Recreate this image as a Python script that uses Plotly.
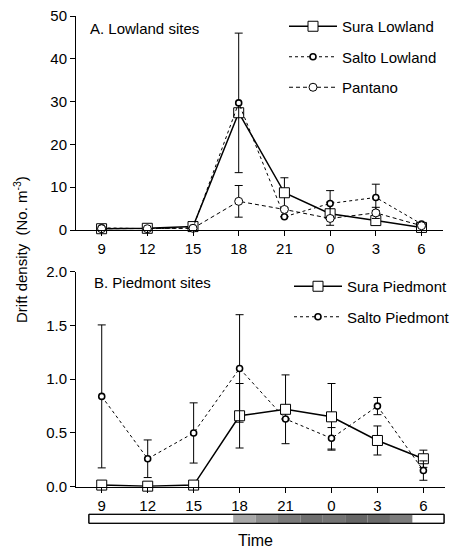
import plotly.graph_objects as go

W, H = 474, 548
hours = ["9", "12", "15", "18", "21", "0", "3", "6"]

# Panel A - Lowland sites (No. m^-3)
sura_low = [0.3, 0.4, 0.8, 27.4, 8.7, 3.8, 2.2, 0.6]
sura_low_err = [0, 0, 0, 0, 3.5, 2.7, 0, 0]
salto_low = [0.5, 0.3, 0.5, 29.7, 3.1, 6.2, 7.6, 1.4]
salto_low_err = [0.2, 0, 0, 16.3, 0, 3.0, 3.1, 0]
pantano = [0.3, 0.3, 0.4, 6.7, 4.8, 2.7, 4.0, 1.0]
pantano_err = [0, 0, 0, 3.7, 0, 0, 1.3, 0.3]

# Panel B - Piedmont sites
sura_pied = [0.015, 0.005, 0.015, 0.66, 0.72, 0.65, 0.43, 0.26]
sura_pied_err = [0, 0, 0, 0.30, 0.32, 0.31, 0.135, 0.08]
salto_pied = [0.84, 0.26, 0.50, 1.10, 0.63, 0.45, 0.75, 0.15]
salto_pied_err = [0.665, 0.175, 0.28, 0.50, 0, 0.10, 0.08, 0.09]

FONT = "Liberation Sans, Arial, Helvetica, sans-serif"

ML, MR, MT, MB = 76, 29, 10, 40
PW, PH = W - ML - MR, H - MT - MB

def dx(p):  # pixel x -> plot-area fraction
    return (p - ML) / PW

def dy(p):  # pixel y -> plot-area fraction
    return 1 - (p - MT) / PH

def err(a):
    return dict(type="data", array=a, visible=True, color="black",
                thickness=1, width=4)

fig = go.Figure()

def add(y, e, name, xa, ya, leg, dash, symbol, size, lw, mlw):
    fig.add_trace(go.Scatter(
        x=hours, y=y, name=name, xaxis=xa, yaxis=ya, legend=leg,
        legendgroup=name, mode="lines+markers",
        line=dict(color="black", width=lw, dash=dash),
        marker=dict(symbol=symbol, size=size, color="white",
                    line=dict(color="black", width=mlw)),
        error_y=err(e), cliponaxis=False))

add(sura_low, sura_low_err, "Sura Lowland", "x", "y", "legend", "solid", "square", 10, 1.5, 1)
add(salto_low, salto_low_err, "Salto Lowland", "x", "y", "legend", "dot", "circle", 6, 1, 1.6)
add(pantano, pantano_err, "Pantano", "x", "y", "legend", "4px,3px", "circle", 8, 1, 1)
add(sura_pied, sura_pied_err, "Sura Piedmont", "x2", "y2", "legend2", "solid", "square", 10, 1.5, 1)
add(salto_pied, salto_pied_err, "Salto Piedmont", "x2", "y2", "legend2", "dot", "circle", 6, 1, 1.6)

xr = [-0.56, 7.47]
axis_common = dict(showline=True, linecolor="black", linewidth=1, ticks="outside",
                   ticklen=5, tickcolor="black", showgrid=False, zeroline=False,
                   automargin=False,
                   tickfont=dict(size=15, color="black", family=FONT))

fig.update_layout(
    width=W, height=H, margin=dict(l=ML, r=MR, t=MT, b=MB, autoexpand=False),
    plot_bgcolor="white", paper_bgcolor="white",
    font=dict(family=FONT, size=15, color="black"),
    xaxis=dict(domain=[dx(76), dx(443)], range=xr, type="category",
               anchor="y", **axis_common),
    yaxis=dict(domain=[dy(230), dy(16)], range=[0, 50], dtick=10,
               anchor="x", **axis_common),
    xaxis2=dict(domain=[dx(76), dx(445)], range=xr, type="category",
                anchor="y2", **axis_common),
    yaxis2=dict(domain=[dy(486.7), dy(271.7)], range=[0, 2.0], dtick=0.5,
                tickformat=".1f", anchor="x2", **axis_common),
    legend=dict(x=dx(284), y=dy(10), xanchor="left", yanchor="top",
                bgcolor="rgba(0,0,0,0)", traceorder="grouped", tracegroupgap=8,
                font=dict(size=15), itemwidth=48),
    legend2=dict(x=dx(289), y=dy(270), xanchor="left", yanchor="top",
                 bgcolor="rgba(0,0,0,0)", traceorder="grouped", tracegroupgap=8,
                 font=dict(size=15), itemwidth=48),
    showlegend=True,
)

def note(text, x, y, xanchor="left", angle=0, size=15):
    fig.add_annotation(text=text, x=dx(x), y=dy(y), xref="paper", yref="paper",
                       xanchor=xanchor, yanchor="middle", showarrow=False,
                       textangle=angle, font=dict(size=size))

note("A. Lowland sites", 88, 28)
note("B. Piedmont sites", 92, 282)
note("Drift density  (No. m<sup>-3</sup>)", 20, 250, xanchor="center", angle=-90)
note("Time", 255, 540, xanchor="center", size=16)

# day/night bar (x in category-index units of panel B axis)
bar_y0, bar_y1 = dy(523.3), dy(514.3)
bar_start, dark_start, dark_end, bar_end = -0.28, 2.86, 6.76, 7.45
fig.add_shape(type="rect", xref="x2", yref="paper", x0=bar_start, x1=bar_end,
              y0=bar_y0, y1=bar_y1, fillcolor="white", line=dict(color="black", width=1))
grays = ["#a8a8a8", "#8c8c8c", "#7a7a7a", "#6e6e6e", "#747474", "#666666", "#6a6a6a", "#7c7c7c"]
n = len(grays)
for i, g in enumerate(grays):
    a = dark_start + (dark_end - dark_start) * i / n
    b = dark_start + (dark_end - dark_start) * (i + 1) / n
    fig.add_shape(type="rect", xref="x2", yref="paper", x0=a, x1=b,
                  y0=bar_y0, y1=bar_y1, fillcolor=g, line=dict(width=0))
fig.add_shape(type="rect", xref="x2", yref="paper", x0=bar_start, x1=bar_end,
              y0=bar_y0, y1=bar_y1, fillcolor="rgba(0,0,0,0)", line=dict(color="black", width=1))

fig.write_html("out.html", config={"displayModeBar": False},
               post_script="document.body.style.margin='0px';")
